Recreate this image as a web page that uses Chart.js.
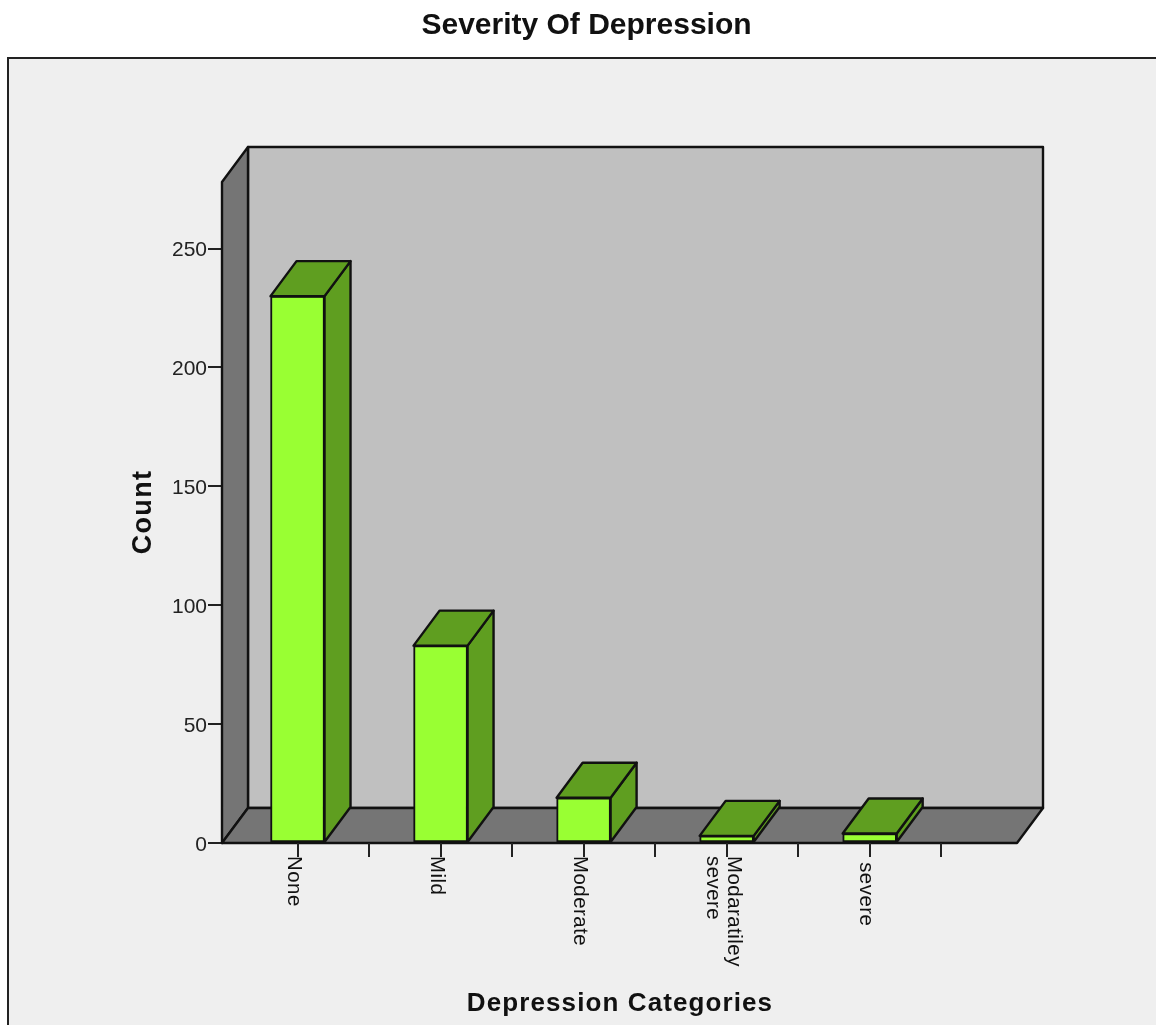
<!DOCTYPE html>
<html>
<head>
<meta charset="utf-8">
<title>Severity Of Depression</title>
<script src="https://cdn.jsdelivr.net/npm/chart.js"></script>
<style>
    html, body { margin: 0; padding: 0; background: #fff; overflow: hidden; }
    canvas { display: block; }
</style>
</head>
<body>
<canvas id="chart" width="1156" height="1025"></canvas>
<script>
// Chart data
const categories = ['None', 'Mild', 'Moderate', ['Modaratiley', 'severe'], ' severe'];
const counts = [230, 83, 19, 3, 4];
const yTicks = [0, 50, 100, 150, 200, 250];

const chartTitle = 'Severity Of Depression';
const xTitle = 'Depression Categories';
const yTitle = 'Count';

// Oblique offset of the 3D box
const depthX = 26;
const depthY = 35;

const LINE = '#111';
const FONT = '"Liberation Sans", Arial, sans-serif';
const LABEL_FONT = '20.4px ' + FONT;
const LABEL_SPACING = '0.5px';

function polygon(ctx, points, fill) {
    ctx.beginPath();
    points.forEach((p, i) => i ? ctx.lineTo(p[0], p[1]) : ctx.moveTo(p[0], p[1]));
    ctx.closePath();
    ctx.fillStyle = fill;
    ctx.fill();
    ctx.strokeStyle = LINE;
    ctx.lineWidth = 2.4;
    ctx.lineJoin = 'round';
    ctx.stroke();
}

function drawText(ctx, text, x, y, font, angle, spacing) {
    ctx.save();
    ctx.translate(x, y);
    ctx.rotate(angle);
    ctx.font = font;
    ctx.letterSpacing = spacing || '0px';
    ctx.fillStyle = '#111';
    ctx.textAlign = 'center';
    ctx.textBaseline = 'middle';
    ctx.fillText(text, 0, 0);
    ctx.restore();
}

function measure(ctx, text) {
    ctx.save();
    ctx.font = LABEL_FONT;
    ctx.letterSpacing = LABEL_SPACING;
    const w = ctx.measureText(text).width;
    ctx.restore();
    return w;
}

// Panel behind the chart, with the titles
const panelPlugin = {
    id: 'panel',
    beforeDraw(chart) {
        const ctx = chart.ctx;
        ctx.save();
        ctx.fillStyle = '#efefef';
        ctx.fillRect(8, 58, chart.width, chart.height);
        ctx.strokeStyle = '#222';
        ctx.lineWidth = 2;
        ctx.beginPath();
        ctx.moveTo(8, chart.height);
        ctx.lineTo(8, 58);
        ctx.lineTo(chart.width, 58);
        ctx.stroke();
        ctx.restore();

        drawText(ctx, chartTitle, 586.5, 26, 'bold 30px ' + FONT);
        drawText(ctx, xTitle, 620, 1004, 'bold 26px ' + FONT, 0, '1.1px');
        drawText(ctx, yTitle, 144, 512, 'bold 27px ' + FONT, -Math.PI / 2, '1.3px');
    }
};

// Side wall, back wall and floor of the box
const wallsPlugin = {
    id: 'walls',
    beforeDatasetsDraw(chart) {
        const ctx = chart.ctx;
        const { left, right, top, bottom } = chart.chartArea;
        ctx.save();
        polygon(ctx, [[left + depthX, top - depthY], [right + depthX, top - depthY],
            [right + depthX, bottom - depthY], [left + depthX, bottom - depthY]], '#c0c0c0');
        polygon(ctx, [[left, top], [left + depthX, top - depthY],
            [left + depthX, bottom - depthY], [left, bottom]], '#757575');
        polygon(ctx, [[left, bottom], [left + depthX, bottom - depthY],
            [right + depthX, bottom - depthY], [right, bottom]], '#757575');
        ctx.restore();
    }
};

// Top and right faces of each bar, x axis ticks and rotated labels
const barsPlugin = {
    id: 'bars3d',
    afterDatasetsDraw(chart) {
        const ctx = chart.ctx;
        const bars = chart.getDatasetMeta(0).data;
        ctx.save();
        bars.forEach(bar => {
            const l = bar.x - bar.width / 2;
            const r = bar.x + bar.width / 2;
            polygon(ctx, [[r, bar.y], [r + depthX, bar.y - depthY],
                [r + depthX, bar.base - depthY], [r, bar.base]], '#5f9e20');
            polygon(ctx, [[l, bar.y], [l + depthX, bar.y - depthY],
                [r + depthX, bar.y - depthY], [r, bar.y]], '#5f9e20');
        });

        const x = chart.scales.x;
        const bottom = chart.chartArea.bottom;
        ctx.strokeStyle = '#222';
        ctx.lineWidth = 2;
        categories.forEach((label, i) => {
            [i, i + 0.5].forEach(v => {
                const px = Math.round(x.getPixelForValue(v));
                ctx.beginPath();
                ctx.moveTo(px, bottom);
                ctx.lineTo(px, bottom + 14);
                ctx.stroke();
            });
            const lines = Array.isArray(label) ? label : [label];
            lines.forEach((line, n) => {
                const w = measure(ctx, line);
                const cx = x.getPixelForValue(i) - 4 + (lines.length - 1) * 11 - n * 21;
                drawText(ctx, line, cx, bottom + 13 + w / 2, LABEL_FONT, Math.PI / 2, LABEL_SPACING);
            });
        });
        ctx.restore();
    }
};

new Chart(document.getElementById('chart').getContext('2d'), {
    type: 'bar',
    data: {
        datasets: [{
            data: counts.map((c, i) => ({ x: i, y: c })),
            backgroundColor: '#99ff33',
            borderColor: LINE,
            borderWidth: 2,
            borderSkipped: false,
            barThickness: 54
        }]
    },
    options: {
        responsive: false,
        animation: false,
        layout: {
            padding: { left: 0, right: 139, top: 182, bottom: 182 }
        },
        plugins: {
            legend: { display: false },
            title: { display: false },
            tooltip: { enabled: false }
        },
        scales: {
            x: {
                type: 'linear',
                offset: false,
                min: -0.528,
                max: 5.03,
                grid: { display: false },
                border: { display: false },
                ticks: { display: false },
                afterFit(scale) { scale.height = 0; }
            },
            y: {
                min: 0,
                max: 278,
                afterFit(scale) { scale.width = 222; },
                afterBuildTicks(scale) {
                    scale.ticks = yTicks.map(value => ({ value }));
                },
                grid: {
                    drawOnChartArea: false,
                    color: '#222',
                    lineWidth: 2,
                    tickLength: 14
                },
                border: { display: false },
                ticks: {
                    color: '#222',
                    padding: 1,
                    labelOffset: 2,
                    font: { family: 'Liberation Sans', size: 21 }
                }
            }
        }
    },
    plugins: [panelPlugin, wallsPlugin, barsPlugin]
});
</script>
</body>
</html>
